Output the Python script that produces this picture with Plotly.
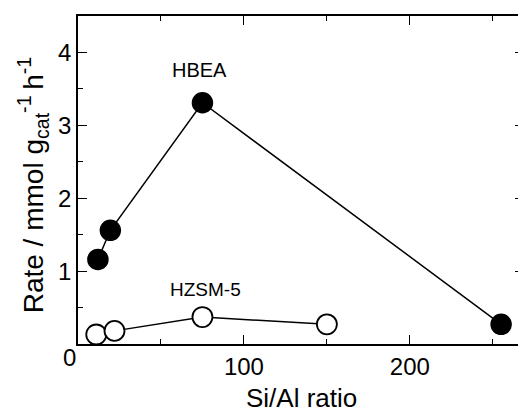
import plotly.graph_objects as go

# Data
hbea_si_al = [12, 19.5, 75, 255]
hbea_rate = [1.16, 1.56, 3.31, 0.27]
hzsm5_si_al = [11, 22, 75, 150]
hzsm5_rate = [0.13, 0.18, 0.37, 0.27]

x_tick_vals = [0, 100, 200]
x_tick_text = ["", "100", "200"]
y_tick_vals = [1, 2, 3, 4]
y_tick_text = ["1", "2", "3", "4"]

FONT = "Liberation Sans, Arial, sans-serif"

fig = go.Figure()
fig.add_trace(go.Scatter(
    x=hbea_si_al, y=hbea_rate, mode="lines+markers",
    line=dict(color="black", width=1.5),
    marker=dict(size=20, color="black", line=dict(color="black", width=1.5)),
    showlegend=False, cliponaxis=False))
fig.add_trace(go.Scatter(
    x=hzsm5_si_al, y=hzsm5_rate, mode="lines+markers",
    line=dict(color="black", width=1.5),
    marker=dict(size=20, color="white", line=dict(color="black", width=1.8)),
    showlegend=False, cliponaxis=False))

axis_common = dict(
    showline=True, linecolor="black", linewidth=1.5, mirror="allticks",
    ticks="inside", ticklen=9, tickwidth=1.2, tickcolor="black",
    showgrid=False, zeroline=False,
    tickfont=dict(family=FONT, size=24, color="black"),
)

fig.update_xaxes(range=[0, 268.8], tickvals=x_tick_vals, ticktext=x_tick_text,
                 minor=dict(dtick=50, tick0=0, ticks="inside", ticklen=5, tickwidth=1.2, tickcolor="black"),
                 **axis_common)
fig.update_yaxes(range=[0, 4.5], tickvals=y_tick_vals, ticktext=y_tick_text,
                 minor=dict(dtick=0.5, tick0=0, ticks="inside", ticklen=5, tickwidth=1.2, tickcolor="black"),
                 **axis_common)

fig.add_annotation(x=73, y=3.76, text="HBEA", showarrow=False,
                   font=dict(family=FONT, size=20, color="black"))
fig.add_annotation(x=77, y=0.75, text="HZSM-5", showarrow=False,
                   font=dict(family=FONT, size=19, color="black"))
# corner zero label
fig.add_annotation(xref="paper", yref="paper", x=-0.02, y=-0.04, text="0", showarrow=False,
                   xanchor="center", yanchor="middle",
                   font=dict(family=FONT, size=24, color="black"))
# axis titles
fig.add_annotation(xref="paper", yref="paper", x=0.5, y=-0.166, text="Si/Al ratio",
                   showarrow=False, xanchor="center", yanchor="middle",
                   font=dict(family=FONT, size=26, color="black"))
fig.add_annotation(xref="paper", yref="paper", x=-0.1, y=0.485,
                   text="Rate / mmol g<sub>cat</sub><sup>-1</sup>\u2009h<sup>-1</sup>",
                   textangle=-90, showarrow=False, xanchor="center", yanchor="middle",
                   font=dict(family=FONT, size=28, color="black"))

# the page body adds an 8px offset; compensate so the plot area sits at 78..526 x 16..344
fig.update_layout(width=518, height=404, margin=dict(l=70, r=0, t=8, b=68),
                  paper_bgcolor="white", plot_bgcolor="white")

fig.write_html("out.html")
